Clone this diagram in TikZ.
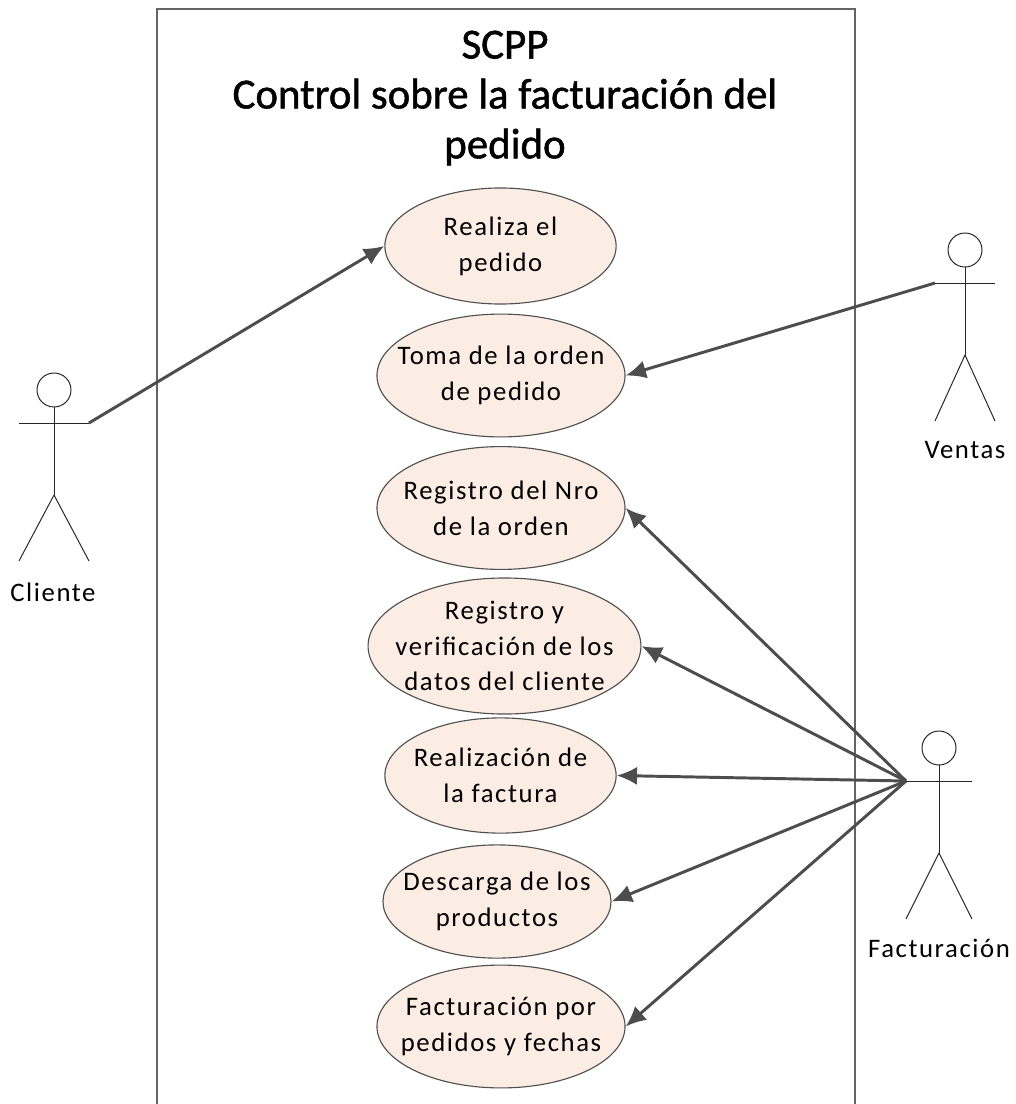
\documentclass[tikz,border=0pt]{standalone}
\usepackage{fontspec}
\setmainfont{Carlito}
\newfontfamily\labelfont[LetterSpace=6]{Carlito}
\newfontfamily\titlefont[FakeBold=1.2]{Carlito}
\usetikzlibrary{arrows.meta,shapes.geometric}

\definecolor{casefill}{RGB}{251,237,227}
\definecolor{caseline}{RGB}{80,80,80}
\definecolor{frameline}{RGB}{100,100,100}
\definecolor{linkline}{RGB}{77,77,77}

\tikzset{
    usecase/.style={draw=caseline, fill=casefill, line width=0.8pt, ellipse, inner xsep=-0.9cm, inner ysep=-0.6cm,
        font=\labelfont\fontsize{19}{25.5}\selectfont, align=center},
    actorlabel/.style={font=\labelfont\fontsize{19}{22}\selectfont, inner sep=0pt},
    actorline/.style={draw=black!85, line width=0.7pt},
    link/.style={draw=linkline, line width=2.1pt, -{Latex[length=14.5pt,width=13pt]}},
}

% stick figure: head centre #1, name #2, half of the arm span #3
\newcommand{\actor}[3]{
    \coordinate (#2) at (#1);
    \draw[actorline] (#2) circle (17 and 17);
    \draw[actorline] (#2) ++(0,17) -- ++(0,88) coordinate (#2hip);
    \draw[actorline] (#2) ++(-#3,33) coordinate (#2left) -- ++(2*#3,0) coordinate (#2right);
    \draw[actorline] (#2hip) -- ++(-#3,66);
    \draw[actorline] (#2hip) -- ++(#3,66);
}

\begin{document}
\begin{tikzpicture}[x=0.025cm, y=-0.025cm]

    % Fix the page
    \useasboundingbox (0,0) rectangle (1016,1104);

    % System boundary
    \draw[draw=frameline, line width=1.2pt] (157,1104) -- (157,9) -- (855,9) -- (855,1104);

    % Title
    \node[font=\titlefont\fontsize{30.5}{35.5}\selectfont, align=center, inner sep=0pt] (title) at (505,98)
        {SCPP\\ Control sobre la facturación del\\ pedido};

    % Use cases
    \node[usecase, minimum width=5.78cm, minimum height=2.9cm] (realiza) at (500.5,246) {Realiza el\\pedido};
    \node[usecase, minimum width=6.2cm, minimum height=3.07cm] (toma) at (501,375.5) {Toma de la orden\\de pedido};
    \node[usecase, minimum width=6.2cm, minimum height=3.07cm] (registro) at (501,508) {Registro del Nro\\de la orden};
    \node[usecase, minimum width=6.82cm, minimum height=3.4cm] (datos) at (504.5,646) {Registro y\\verificación de los\\datos del cliente};
    \node[usecase, minimum width=5.78cm, minimum height=2.88cm] (factura) at (500.5,775.5) {Realización de\\la factura};
    \node[usecase, minimum width=5.7cm, minimum height=2.83cm] (descarga) at (497,901.5) {Descarga de los\\productos};
    \node[usecase, minimum width=6.2cm, minimum height=3.07cm] (fechas) at (501,1026.5) {Facturación por\\pedidos y fechas};

    % Actors
    \actor{54,390}{cliente}{35}
    \actor{965,250}{ventas}{30}
    \actor{939,748}{facturacion}{33}
    \node[actorlabel] (clientelabel) at (53,592) {Cliente};
    \node[actorlabel] (ventaslabel) at (965,450) {Ventas};
    \node[actorlabel] (facturacionlabel) at (939,948) {Facturación};

    % Links
    \draw[link] (clienteright) -- (realiza.west);
    \draw[link] (ventasleft) -- (toma.east);
    \draw[link] (facturacionleft) -- (registro.east);
    \draw[link] (facturacionleft) -- (datos.east);
    \draw[link] (facturacionleft) -- (factura.east);
    \draw[link] (facturacionleft) -- (descarga.east);
    \draw[link] (facturacionleft) -- (fechas.east);

\end{tikzpicture}
\end{document}
